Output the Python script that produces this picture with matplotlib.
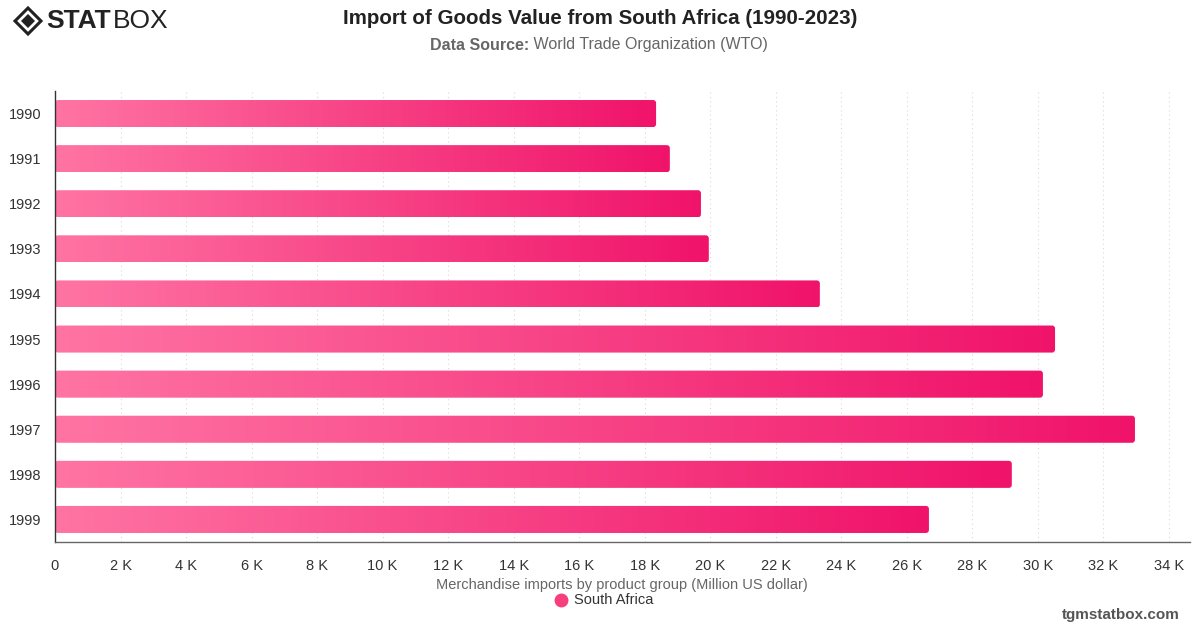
import numpy as np
import matplotlib
matplotlib.use("Agg")
import matplotlib.pyplot as plt
from matplotlib.colors import LinearSegmentedColormap
from matplotlib.patches import FancyBboxPatch, Polygon

plt.rcParams['font.family'] = ['Liberation Sans', 'DejaVu Sans']

years = ['1990', '1991', '1992', '1993', '1994', '1995', '1996', '1997', '1998', '1999']
imports = [18350, 18770, 19720, 19960, 23350, 30530, 30160, 32970, 29210, 26680]
xticks = list(range(0, 34001, 2000))
xtick_labels = ['0'] + ['%d K' % (t // 1000) for t in xticks[1:]]

fig = plt.figure(figsize=(12, 6.28), dpi=100)
ax = fig.add_axes([55 / 1200, 1 - 542 / 628, 1135 / 1200, 451 / 628])

xmax = 34650
ax.set_xlim(0, xmax)
ax.set_ylim(len(years) - 0.5, -0.5)

cmap = LinearSegmentedColormap.from_list('pinkgrad', ['#ff74a3', '#f0136a'])
grad = np.linspace(0, 1, 256).reshape(1, -1)

bar_h = 0.6
# rounding of ~3px in both directions
rx = 3 * xmax / 1135
ry = 3 * (len(years)) / 451
for i, v in enumerate(imports):
    y0 = i - bar_h / 2
    patch = FancyBboxPatch((0, y0), v, bar_h,
                           boxstyle='round,pad=0,rounding_size=%f' % rx,
                           mutation_aspect=ry / rx,
                           facecolor='none', edgecolor='none')
    ax.add_patch(patch)
    im = ax.imshow(grad, cmap=cmap, aspect='auto', extent=[0, v, i + bar_h / 2, y0],
                   interpolation='bilinear', zorder=2)
    im.set_clip_path(patch)

ax.set_yticks(range(len(years)))
ax.set_yticklabels(years)
ax.set_xticks(xticks)
ax.set_xticklabels(xtick_labels)
ax.tick_params(axis='both', length=0, labelsize=10.5, colors='#333333')
ax.tick_params(axis='x', pad=12)
ax.tick_params(axis='y', pad=10)

for t in xticks[1:]:
    ax.axvline(t, color='#d8d8d8', lw=0.8, ls=(0, (1, 3)), zorder=0)

for s in ['top', 'right']:
    ax.spines[s].set_visible(False)
ax.spines['left'].set_color('#333333')
ax.spines['bottom'].set_color('#666666')
ax.spines['left'].set_linewidth(1.0)
ax.spines['bottom'].set_linewidth(1.0)

# titles
fig.text(0.5, 1 - 18 / 628, 'Import of Goods Value from South Africa (1990-2023)',
         ha='center', va='center', fontsize=14.8, fontweight='bold', color='#222222')
fig.text(529 / 1200, 1 - 45 / 628, 'Data Source:', ha='right', va='center', fontsize=11.5,
         fontweight='bold', color='#666666')
fig.text(529 / 1200, 1 - 45 / 628, ' World Trade Organization (WTO)', ha='left', va='center',
         fontsize=11.5, color='#666666')

fig.text(622 / 1200, 1 - 585 / 628,
         'Merchandise imports by product group (Million US dollar)',
         ha='center', va='center', fontsize=10.5, color='#666666')
fig.lines.append(plt.Line2D([561 / 1200], [1 - 600 / 628], marker='o', markersize=9,
                            color='#f5407d', transform=fig.transFigure))
fig.text(574 / 1200, 1 - 600 / 628, 'South Africa', ha='left', va='center',
         fontsize=10.5, color='#333333')

fig.text(1180 / 1200, 1 - 615 / 628, 'tgmstatbox.com', ha='right', va='center',
         fontsize=11, fontweight='bold', color='#555555')

# logo
cx, cy = 28 / 1200, 1 - 21 / 628
w, h = 13 / 1200, 13 / 628
fig.patches.append(Polygon([(cx - w, cy), (cx, cy + h), (cx + w, cy), (cx, cy - h)],
                           closed=True, fill=False, edgecolor='#222222', lw=2.2,
                           transform=fig.transFigure))
w2, h2 = 7 / 1200, 7 / 628
fig.patches.append(Polygon([(cx - w2, cy), (cx, cy + h2), (cx + w2, cy), (cx, cy - h2)],
                           closed=True, facecolor='#222222', edgecolor='none',
                           transform=fig.transFigure))
fig.text(46 / 1200, cy, 'STAT', ha='left', va='center', fontsize=19,
         fontweight='heavy', color='#222222')
fig.text(113 / 1200, cy, 'BOX', ha='left', va='center', fontsize=19,
         fontweight='light', color='#222222')

fig.savefig('out.png', dpi=100)
